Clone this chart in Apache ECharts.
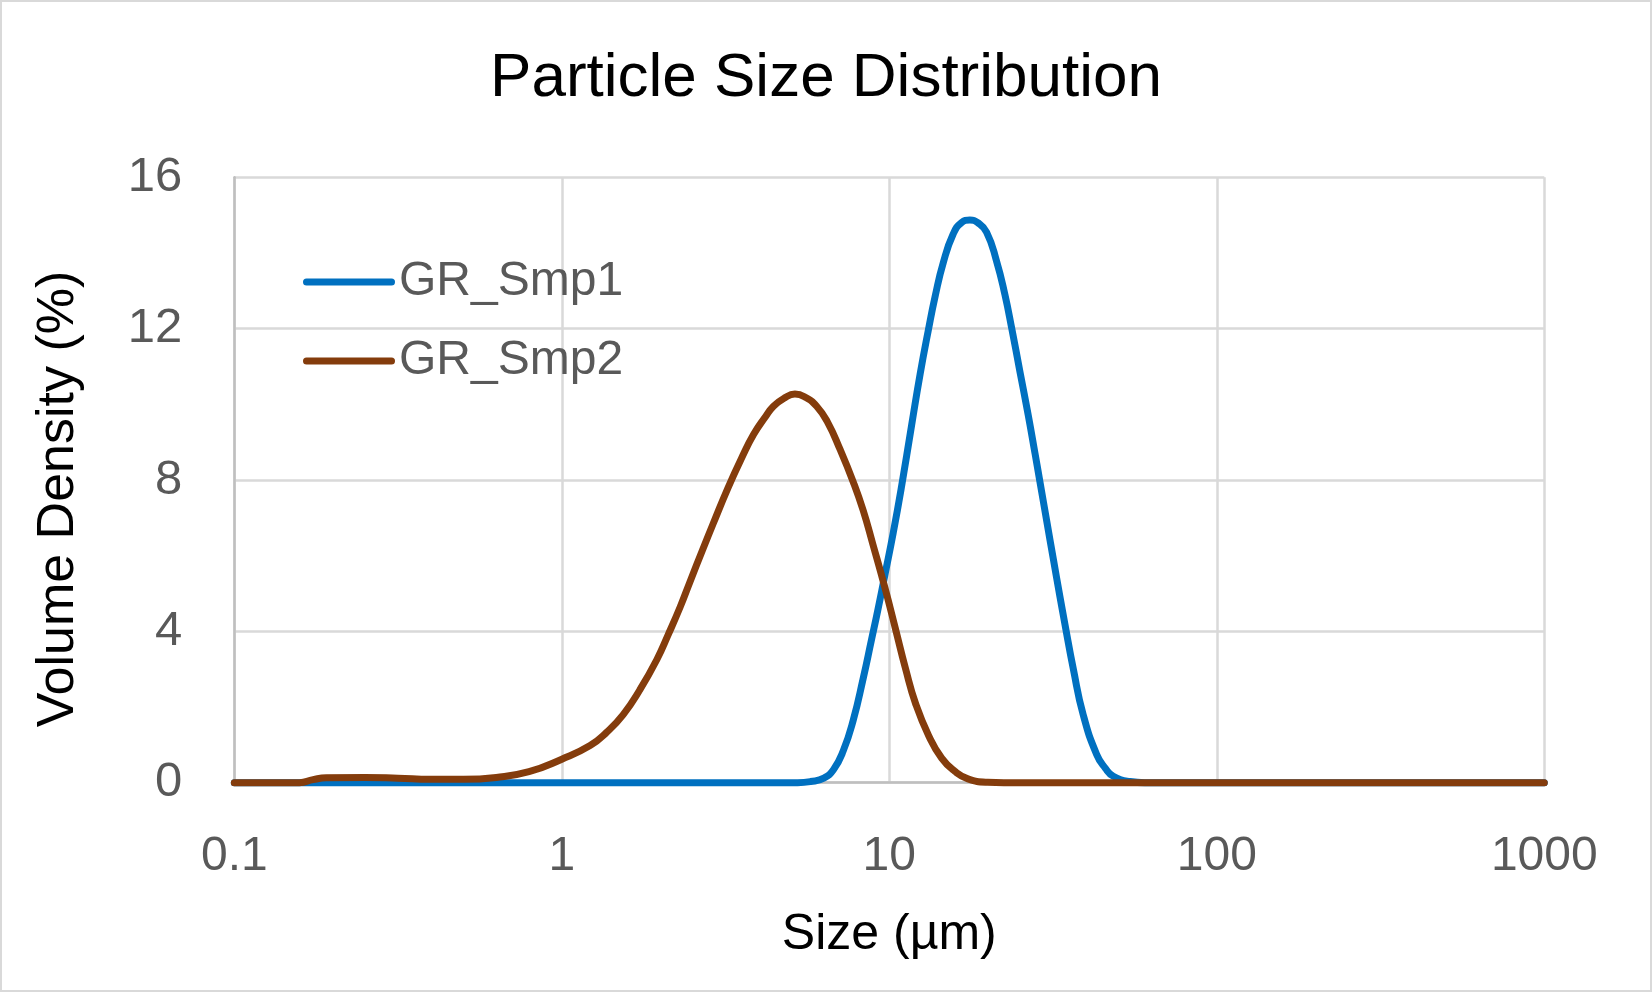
<!DOCTYPE html>
<html>
<head>
<meta charset="utf-8">
<script src="https://cdn.jsdelivr.net/npm/echarts@6/dist/echarts.min.js"></script>
<style>
  html, body { margin: 0; padding: 0; background: #fff; }
  #chart { width: 1652px; height: 992px; }
</style>
</head>
<body>
<div id="chart"></div>
<script>
// ---- Data ----
const chartTitle = 'Particle Size Distribution';
const xAxisTitle = 'Size (µm)';
const yAxisTitle = 'Volume Density (%)';
const xTickLabels = ['0.1', '1', '10', '100', '1000'];
const yTickLabels = ['0', '4', '8', '12', '16'];

const series1Name = 'GR_Smp1';
const series1Sizes = [0.1, 3.16, 5.25, 5.75, 6.31, 6.76, 7.24, 7.76, 8.32, 8.81, 9.23, 9.70, 10.28, 10.91, 11.70, 12.42, 13.15, 13.80, 14.62, 15.67, 16.6, 17.62, 18.62, 19.82, 21.28, 22.54, 23.66, 25.06, 26.55, 27.86, 28.84, 30.27, 31.70, 33.19, 34.36, 36.48, 39.08, 42.95, 45.7, 48.31, 54.33, 60.3, 1000];
const series1Values = [0, 0, 0, 0.03, 0.12, 0.35, 0.85, 1.65, 2.75, 3.75, 4.57, 5.5, 6.6, 7.85, 9.45, 10.8, 11.95, 12.85, 13.75, 14.5, 14.8, 14.87, 14.8, 14.55, 13.77, 12.9, 12.0, 10.86, 9.72, 8.7, 7.95, 6.9, 5.9, 4.92, 4.2, 3.0, 1.8, 0.75, 0.38, 0.17, 0.03, 0, 0];

const series2Name = 'GR_Smp2';
const series2Sizes = [0.1, 0.158, 0.174, 0.191, 0.251, 0.316, 0.398, 0.501, 0.631, 0.794, 1, 1.22, 1.37, 1.54, 1.73, 1.95, 2.11, 2.30, 2.46, 2.69, 2.90, 3.22, 3.55, 3.85, 4.17, 4.43, 4.79, 5.15, 5.56, 6.00, 6.46, 7.08, 7.76, 8.32, 8.91, 9.70, 10.42, 11.22, 12.02, 13.18, 14.45, 15.85, 17.38, 19.95, 22.39, 1000];
const series2Values = [0, 0, 0.08, 0.13, 0.14, 0.12, 0.09, 0.09, 0.14, 0.29, 0.62, 0.98, 1.33, 1.8, 2.45, 3.25, 3.9, 4.65, 5.3, 6.15, 6.85, 7.8, 8.6, 9.2, 9.65, 9.95, 10.17, 10.27, 10.18, 9.95, 9.55, 8.8, 7.95, 7.2, 6.3, 5.15, 4.1, 3.0, 2.1, 1.25, 0.65, 0.3, 0.1, 0.01, 0, 0];

const FONT = '"Liberation Sans", Arial, sans-serif';
const BLUE = '#0070C0';
const BROWN = '#843C0C';
const LEGEND_ICON = 'path://M3.5,0 L88.5,0 A3.5,3.5 0 0 1 88.5,7 L3.5,7 A3.5,3.5 0 0 1 3.5,0 Z';

function pairs(xs, ys) { return xs.map((x, i) => [x, ys[i]]); }

const chart = echarts.init(document.getElementById('chart'), null, { renderer: 'canvas' });

const option = {
  backgroundColor: '#ffffff',
  animation: false,
  title: {
    text: chartTitle,
    left: 'center',
    top: 43,
    textStyle: { fontFamily: FONT, fontSize: 62, fontWeight: 'normal', color: '#000000' }
  },
  legend: {
    orient: 'vertical',
    left: 298,
    top: 253,
    itemWidth: 92,
    itemHeight: 7,
    itemGap: 31,
    icon: LEGEND_ICON,
    textStyle: { fontFamily: FONT, fontSize: 48, color: '#595959', lineHeight: 48, padding: [0, 0, 0, -1] },
    data: [
      { name: series1Name, icon: LEGEND_ICON, itemStyle: { color: BLUE } },
      { name: series2Name, icon: LEGEND_ICON, itemStyle: { color: BROWN } }
    ]
  },
  grid: { left: 234.3, right: 107.7, top: 177.3, bottom: 209.3, containLabel: false },
  xAxis: {
    type: 'log',
    logBase: 10,
    min: 0.1,
    max: 1000,
    name: xAxisTitle,
    nameLocation: 'middle',
    nameGap: 128,
    nameTextStyle: { fontFamily: FONT, fontSize: 50, color: '#000000' },
    axisLine: { show: true, onZero: false, lineStyle: { color: '#BFBFBF', width: 2.5 } },
    axisTick: { show: false },
    minorTick: { show: false },
    splitLine: { show: true, lineStyle: { color: '#D9D9D9', width: 2.5 } },
    axisLabel: {
      fontFamily: FONT, fontSize: 48, color: '#595959', margin: 50,
      formatter: function (v) {
        const idx = Math.round(Math.log10(v)) + 1;
        return xTickLabels[idx] !== undefined ? xTickLabels[idx] : '';
      }
    }
  },
  yAxis: {
    type: 'value',
    min: 0,
    max: 16,
    interval: 4,
    name: yAxisTitle,
    nameLocation: 'middle',
    nameGap: 150,
    nameTextStyle: { fontFamily: FONT, fontSize: 52, color: '#000000', padding: [0, 38, 0, 0] },
    axisLine: { show: true, lineStyle: { color: '#BFBFBF', width: 2.5 } },
    axisTick: { show: false },
    splitLine: { show: true, lineStyle: { color: '#D9D9D9', width: 2.5 } },
    axisLabel: {
      fontFamily: FONT, fontSize: 49, color: '#595959', margin: 52,
      formatter: function (v) { return yTickLabels[Math.round(v / 4)]; }
    }
  },
  graphic: [{
    type: 'rect',
    shape: { x: 1, y: 1, width: 1650, height: 990 },
    style: { fill: 'none', stroke: '#D9D9D9', lineWidth: 2 },
    silent: true,
    z: 100
  }],
  series: [
    {
      name: series1Name,
      type: 'line',
      data: pairs(series1Sizes, series1Values),
      smooth: 0.5,
      symbol: 'none',
      showSymbol: false,
      clip: false,
      lineStyle: { color: BLUE, width: 7, cap: 'round', join: 'round' },
      itemStyle: { color: BLUE },
      z: 3
    },
    {
      name: series2Name,
      type: 'line',
      data: pairs(series2Sizes, series2Values),
      smooth: 0.5,
      symbol: 'none',
      showSymbol: false,
      clip: false,
      lineStyle: { color: BROWN, width: 7, cap: 'round', join: 'round' },
      itemStyle: { color: BROWN },
      z: 4
    }
  ]
};
chart.setOption(option);
</script>
</body>
</html>
